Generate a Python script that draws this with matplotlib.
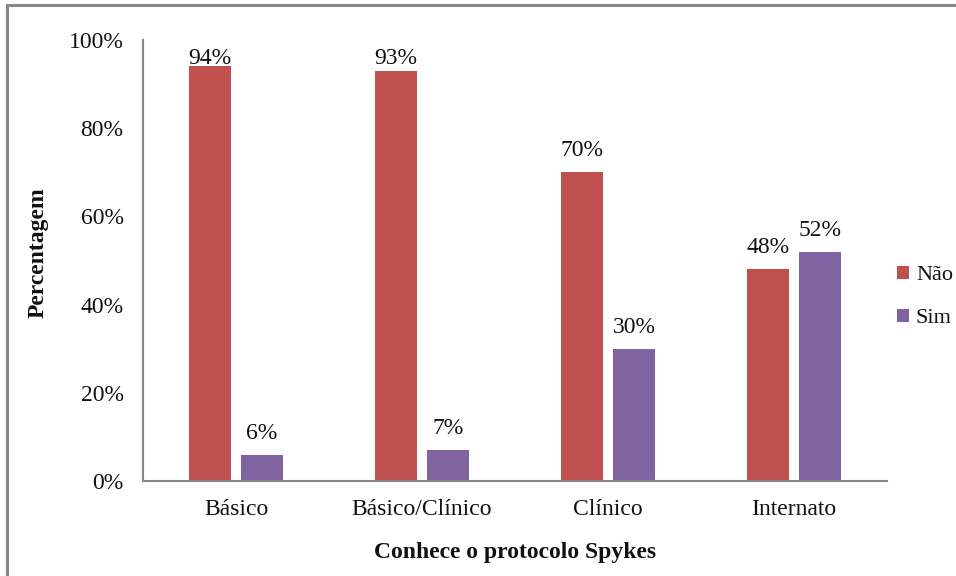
import numpy as np
import matplotlib
matplotlib.use("Agg")
import matplotlib.pyplot as plt
from matplotlib.lines import Line2D

# --------------------------
# Data
# --------------------------
categories = ["Básico", "Básico/Clínico", "Clínico", "Internato"]
nao = [94, 93, 70, 48]
sim = [6, 7, 30, 52]
series_names = ["Não", "Sim"]
colors = ["#C0504D", "#8064A2"]
yticks = [0, 20, 40, 60, 80, 100]

plt.rcParams["font.family"] = ["Liberation Serif", "DejaVu Serif"]
FS = 17
TXT = "#111111"

fig = plt.figure(figsize=(9.56, 5.76), dpi=100)
ax = fig.add_axes([143 / 956, 1 - 481 / 576, 744 / 956, 441 / 576])

x = np.arange(len(categories))
width = 0.23
offset = 0.14

bars = []
for vals, off, color, name in zip([nao, sim], [-offset, offset], colors, series_names):
    b = ax.bar(x + off, vals, width, color=color, label=name, zorder=2)
    bars.append(b)
    for xi, v in zip(x + off, vals):
        # keep labels inside the plot area near the top
        ax.text(xi, min(v + 3.6, 94.6), f"{v}%", ha="center", va="baseline",
                fontsize=FS, color=TXT)

ax.set_xlim(-0.5, len(categories) - 0.5)
ax.set_ylim(0, 100)
ax.set_yticks(yticks)
ax.set_yticklabels([f"{t}%" for t in yticks])
ax.set_xticks(x)
ax.set_xticklabels(categories)
ax.tick_params(axis="both", length=0, labelsize=FS, colors=TXT)
ax.tick_params(axis="y", pad=14)
ax.tick_params(axis="x", pad=13)

for side in ["top", "right"]:
    ax.spines[side].set_visible(False)
for side in ["left", "bottom"]:
    ax.spines[side].set_color("#868686")
    ax.spines[side].set_linewidth(1.5)

ax.set_xlabel("Conhece o protocolo Spykes", fontsize=FS, fontweight="bold",
              labelpad=16, color=TXT)
ax.set_ylabel("Percentagem", fontsize=FS, fontweight="bold", color=TXT)
ax.yaxis.set_label_coords(49 / 956, 1 - 253 / 576, transform=fig.transFigure)

leg = fig.legend(handles=bars, labels=series_names, loc="center left",
                 bbox_to_anchor=(897 / 956, 1 - 297 / 576), frameon=False,
                 fontsize=16, handlelength=0.55, handleheight=0.55,
                 handletextpad=0.3, labelspacing=1.05, borderaxespad=0,
                 borderpad=0)
for t in leg.get_texts():
    t.set_color(TXT)

# outer frame (only top and left edges fall inside the image)
fig.add_artist(Line2D([7 / 956, 7 / 956], [0, 1 - 5 / 576], transform=fig.transFigure,
                      color="#888888", linewidth=2.2))
fig.add_artist(Line2D([7 / 956, 1], [1 - 5 / 576, 1 - 5 / 576], transform=fig.transFigure,
                      color="#888888", linewidth=2.2))

fig.savefig("out.png", dpi=100, facecolor="white")
